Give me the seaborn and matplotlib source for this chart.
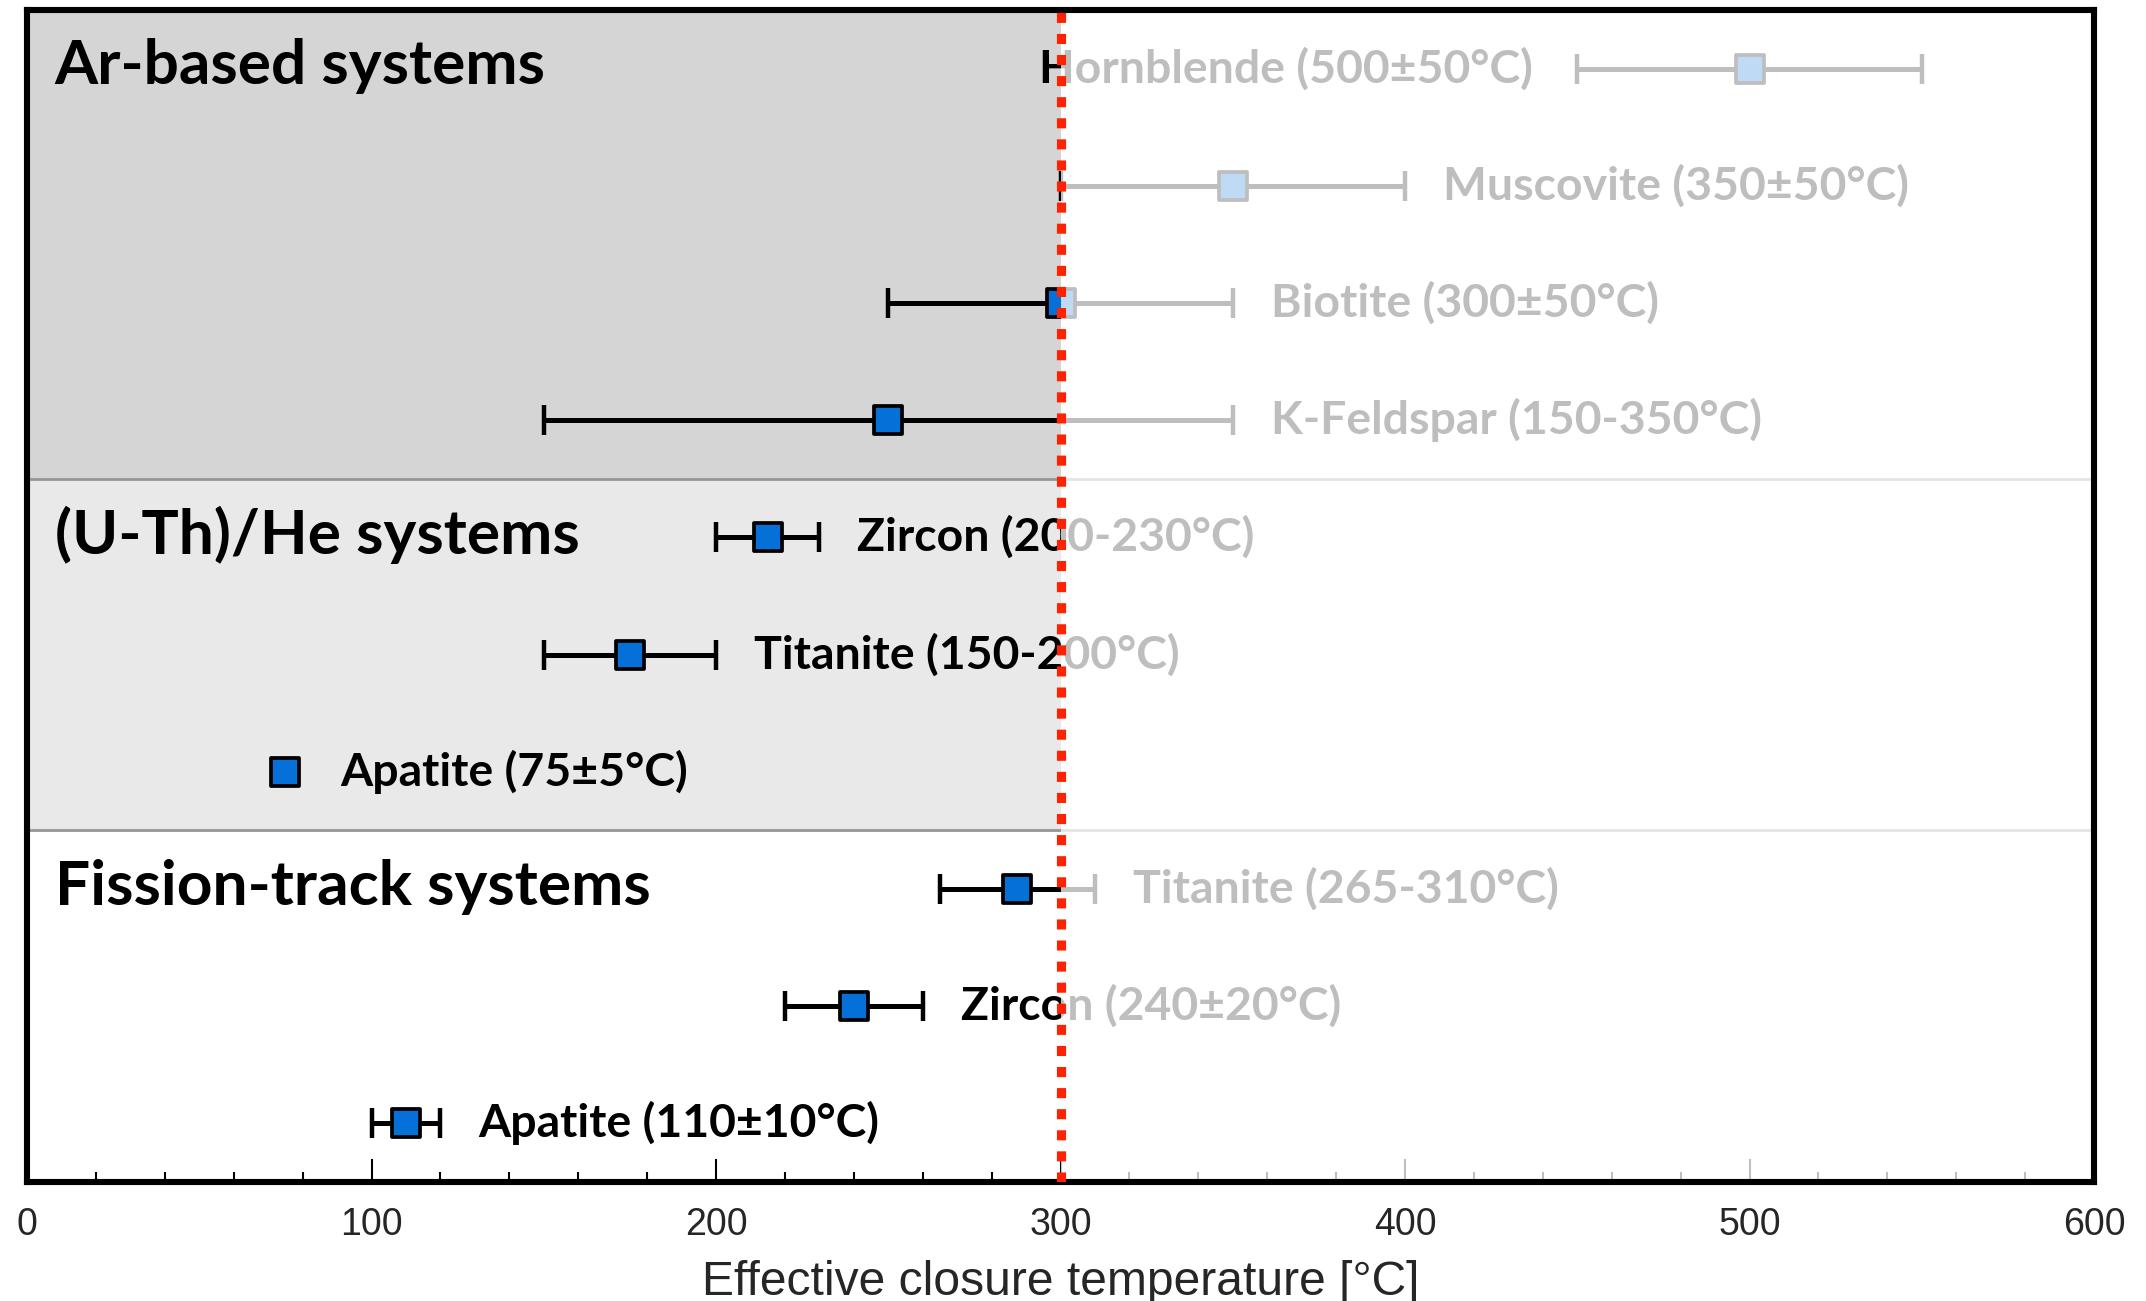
import matplotlib
matplotlib.use("Agg")
import matplotlib.pyplot as plt
from matplotlib.ticker import MultipleLocator
from matplotlib.patches import Rectangle
import seaborn as sns
import pandas as pd
import numpy as np

# ---------------- data ----------------
systems = ["Ar-based systems", "(U-Th)/He systems", "Fission-track systems"]
system_rows = [4, 3, 3]
minerals = ["Hornblende", "Muscovite", "Biotite", "K-Feldspar",
            "Zircon", "Titanite", "Apatite",
            "Titanite", "Zircon", "Apatite"]
range_text = ["500±50°C", "350±50°C", "300±50°C", "150-350°C",
              "200-230°C", "150-200°C", "75±5°C",
              "265-310°C", "240±20°C", "110±10°C"]
center = [500, 350, 300, 250, 215, 175, 75, 287.5, 240, 110]
low = [450, 300, 250, 150, 200, 150, 70, 265, 220, 100]
high = [550, 400, 350, 350, 230, 200, 80, 310, 260, 120]
has_errorbar = [True, True, True, True, True, True, False, True, True, True]
label_side = ["left", "right", "right", "right", "right", "right", "right",
              "right", "right", "right"]
threshold = 300
x_max = 600

# ---------------- style ----------------
sns.set_theme(style="white")
plt.rcParams["font.family"] = ["Liberation Sans", "DejaVu Sans"]
label_family = ["Lato", "DejaVu Sans"]

DPI = 200
fig = plt.figure(figsize=(2146 / DPI, 1301 / DPI), dpi=DPI)
ax = fig.add_axes([27 / 2146, 1 - 1182 / 1301, (2094 - 27) / 2146, (1182 - 10) / 1301])

rows = np.arange(len(minerals)) + 0.5
df = pd.DataFrame({"mineral": minerals, "center": center, "row": rows})

# section backgrounds
left_cols = ["#d5d5d5", "#e9e9e9", "#ffffff"]
start = 0
for nrows, col in zip(system_rows, left_cols):
    ax.add_patch(Rectangle((0, start), threshold, nrows, facecolor=col,
                           edgecolor="none", zorder=0.2))
    ax.axhline(start + nrows, color="#969696", lw=1.0, zorder=0.3)
    start += nrows

# error bars
c = np.array(center, dtype=float)
lo = np.array(low, dtype=float)
hi = np.array(high, dtype=float)
mask = np.array(has_errorbar)
xerr = np.array([c[mask] - lo[mask], hi[mask] - c[mask]])
ax.errorbar(c[mask], rows[mask], xerr=xerr, fmt="none", ecolor="black",
            elinewidth=1.8, capsize=5.4, capthick=1.6, zorder=2.0)

# markers via seaborn
sns.scatterplot(data=df, x="center", y="row", marker="s", s=105,
                color="#0570d8", edgecolor="black", linewidth=1.35,
                ax=ax, zorder=2.1, legend=False)

# mineral labels
for r, m, t, l, h, side in zip(rows, minerals, range_text, low, high, label_side):
    txt = f"{m} ({t})"
    if side == "right":
        ax.text(h + 11, r, txt, ha="left", va="center", fontsize=16.7,
                fontweight="bold", family=label_family, color="black", zorder=2.2)
    else:
        ax.text(l - 13, r, txt, ha="right", va="center", fontsize=16.7,
                fontweight="bold", family=label_family, color="black", zorder=2.2)

# section titles
start = 0
for name, nrows in zip(systems, system_rows):
    ax.text(8, start + 0.48, name, ha="left", va="center", fontsize=22.4,
            fontweight="bold", family=label_family, color="black", zorder=2.2)
    start += nrows

# fading overlay beyond threshold
ax.add_patch(Rectangle((threshold, 0), x_max - threshold, sum(system_rows),
                       facecolor="white", alpha=0.75, edgecolor="none", zorder=2.4))

# threshold line
ax.axvline(threshold, color="#ff2200", lw=3.3, linestyle=(0, (1.1, 1.2)), zorder=3)

# axes
ax.set_xlim(0, x_max)
ax.set_ylim(sum(system_rows), 0)
ax.set_yticks([])
ax.set_ylabel("")
ax.xaxis.set_major_locator(MultipleLocator(100))
ax.xaxis.set_minor_locator(MultipleLocator(20))
ax.tick_params(axis="x", which="major", direction="in", length=8.3, width=0.75,
               color="black", labelsize=13.5, pad=9, bottom=True, top=False)
ax.tick_params(axis="x", which="minor", direction="in", length=3.6, width=0.75,
               color="black", bottom=True, top=False)
ax.xaxis.set_zorder(1.5)
ax.set_xlabel("Effective closure temperature [°C]", fontsize=17.3, labelpad=6)
for sp in ax.spines.values():
    sp.set_visible(True)
    sp.set_color("black")
    sp.set_linewidth(2.2)
    sp.set_zorder(2.6)
ax.set_facecolor("white")

fig.savefig("out.png", dpi=DPI, facecolor="white")
